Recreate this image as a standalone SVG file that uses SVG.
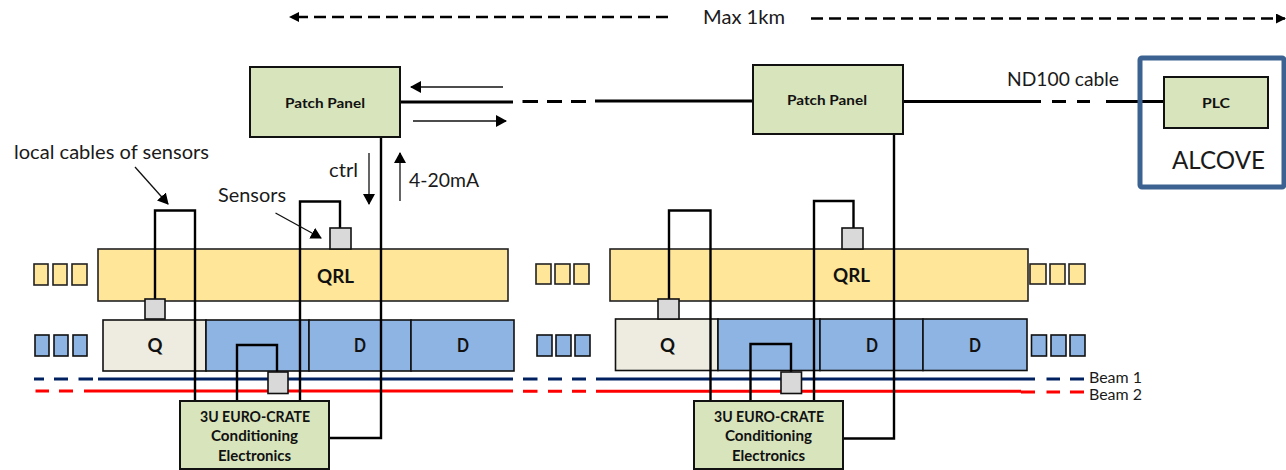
<svg xmlns="http://www.w3.org/2000/svg" width="1286" height="470" viewBox="0 0 1286 470">
<style>
text{font-family:Lato,"Liberation Sans",sans-serif;fill:#1a1a1a;text-anchor:middle;dominant-baseline:central}
.b{font-weight:700;fill:#111}
.pp{fill:#d8e4bc;stroke:#111;stroke-width:2}
.ql{fill:#ffe699;stroke:#222;stroke-width:1.6}
.bl{fill:#8eb4e3;stroke:#111;stroke-width:1.6}
.q{fill:#eeece1;stroke:#111;stroke-width:1.6}
.s{fill:#d9d9d9;stroke:#111;stroke-width:1.6}
.w{fill:none;stroke:#000;stroke-width:2.4}
.c{fill:none;stroke:#000;stroke-width:3}
.a{fill:none;stroke:#111;stroke-width:1.3;marker-end:url(#ah)}
.d{fill:none;stroke:#000;stroke-width:2.4;stroke-dasharray:12 6;marker-end:url(#ah2)}
.b1{fill:none;stroke:#002060;stroke-width:3}
.b2{fill:none;stroke:#f00;stroke-width:3}
</style>
<defs>
<marker id="ah" markerWidth="11" markerHeight="12" refX="10" refY="6" orient="auto" markerUnits="userSpaceOnUse"><path d="M0 0L11 6L0 12Z" fill="#000"/></marker>
<marker id="ah2" markerWidth="10" markerHeight="10" refX="9" refY="5" orient="auto" markerUnits="userSpaceOnUse"><path d="M0 0L10 5L0 10Z" fill="#000"/></marker>
</defs>

<g id="left-section">
<rect class="ql" x="98" y="249" width="410" height="52"/>
<rect class="ql" x="34" y="264" width="14" height="21"/><rect class="ql" x="53" y="264" width="14" height="21"/><rect class="ql" x="72" y="264" width="15" height="21"/>
<rect class="ql" x="536" y="264" width="15" height="20"/><rect class="ql" x="555" y="264" width="15" height="20"/><rect class="ql" x="574" y="264" width="15" height="20"/>
<rect class="q" x="103" y="320" width="103" height="51"/>
<rect class="bl" x="206" y="320" width="103" height="51"/><rect class="bl" x="309" y="320" width="102" height="51"/><rect class="bl" x="411" y="320" width="103" height="51"/>
<rect class="bl" x="35" y="335" width="14" height="21"/><rect class="bl" x="54" y="335" width="14" height="21"/><rect class="bl" x="73" y="335" width="14" height="21"/>
<rect class="bl" x="537" y="335" width="15" height="21"/><rect class="bl" x="556" y="335" width="15" height="21"/><rect class="bl" x="575" y="335" width="15" height="21"/>
</g>
<g id="right-section">
<rect class="ql" x="610" y="249" width="418" height="52"/>
<rect class="ql" x="1030" y="264" width="16" height="20"/><rect class="ql" x="1050" y="264" width="15" height="20"/><rect class="ql" x="1069" y="264" width="16" height="20"/>
<rect class="q" x="615.500" y="319" width="102.500" height="51.500"/>
<rect class="bl" x="718" y="319" width="102" height="51.500"/><rect class="bl" x="820" y="319" width="103" height="51.500"/><rect class="bl" x="923" y="319" width="104" height="51.500"/>
<rect class="bl" x="1031.500" y="335" width="15" height="21"/><rect class="bl" x="1051" y="335" width="15" height="21"/><rect class="bl" x="1070" y="335" width="15" height="21"/>
</g>

<g id="connectors">
<path class="b1" d="M34 379H44M54 379H68M78.500 379H93M98 379H513M523 379H537.500M548 379H562M572 379H586M596 379H1035M1046.500 379H1060M1070 379H1084"/>
<path class="b2" d="M35.500 391H49M59 391H73M84 391H513M523 391.300H537.500M548 391.300H562M572 391.300H586M596 391.300H1021M1021 392H1035M1046.500 392H1060M1070 392H1084"/>
<path class="w" d="M155 300V210.500H195V401"/>
<path class="w" d="M300 401V201.500H340V229"/>
<path class="w" d="M237 401V345H277V373"/>
<path class="w" d="M381 137V438H329"/>
<path class="w" d="M669 300V210.500H710.500V401"/>
<path class="w" d="M814 401V201H853.500V229"/>
<path class="w" d="M750.500 401V344H791V373"/>
<path class="w" d="M894 134V438.500H843"/>
<path class="c" d="M400 102H513M522.500 101.500H538M547 101.500H562M571 101.500H586M595 101H753"/>
<path class="c" d="M903 101.500H1041M1052 101.500H1066M1077 101.500H1090M1106 101.500H1164"/>
<path class="d" d="M668 17H290"/>
<path class="d" d="M811 18.500H1285"/>
<path class="a" d="M503 87H411"/>
<path class="a" d="M413 121H506"/>
<path class="a" d="M369 153V204"/>
<path class="a" d="M400 201V153"/>
<path class="a" d="M135 167L168 204"/>
<path class="a" d="M275.500 213L321 238"/>
</g>

<g id="sensor-1"><rect class="s" x="145" y="299" width="20" height="20"/></g>
<g id="sensor-2"><rect class="s" x="330" y="228" width="21" height="21"/></g>
<g id="sensor-3"><rect class="s" x="268" y="372" width="20" height="21.500"/></g>
<g id="sensor-4"><rect class="s" x="658" y="299" width="21" height="20"/></g>
<g id="sensor-5"><rect class="s" x="842" y="228" width="21" height="21"/></g>
<g id="sensor-6"><rect class="s" x="781" y="372" width="20.500" height="21.500"/></g>

<g id="patch-panel-1"><rect class="pp" x="250" y="67" width="150" height="70"/><text class="b" x="325" y="103" font-size="13.500" textLength="80" lengthAdjust="spacingAndGlyphs">Patch Panel</text></g>
<g id="patch-panel-2"><rect class="pp" x="753" y="65" width="150" height="69"/><text class="b" x="827" y="100" font-size="13.500" textLength="80" lengthAdjust="spacingAndGlyphs">Patch Panel</text></g>
<g id="alcove"><rect x="1140" y="58" width="144" height="129" rx="2" fill="none" stroke="#3b6291" stroke-width="5"/><text x="1218.500" y="159" font-size="25" textLength="93" lengthAdjust="spacingAndGlyphs">ALCOVE</text></g>
<g id="plc"><rect class="pp" x="1164" y="77" width="104" height="51"/><text class="b" x="1216" y="102" font-size="14" textLength="28" lengthAdjust="spacingAndGlyphs">PLC</text></g>
<g id="crate-1"><rect class="pp" x="180" y="401" width="149" height="68"/>
<text class="b" x="255" y="416" font-size="14.500" textLength="110" lengthAdjust="spacingAndGlyphs">3U EURO-CRATE</text>
<text class="b" x="254.500" y="435" font-size="14.500" textLength="87" lengthAdjust="spacingAndGlyphs">Conditioning</text>
<text class="b" x="254.500" y="455" font-size="14.500" textLength="73" lengthAdjust="spacingAndGlyphs">Electronics</text></g>
<g id="crate-2"><rect class="pp" x="694" y="401" width="149" height="68"/>
<text class="b" x="769" y="416" font-size="14.500" textLength="110" lengthAdjust="spacingAndGlyphs">3U EURO-CRATE</text>
<text class="b" x="768.500" y="435" font-size="14.500" textLength="87" lengthAdjust="spacingAndGlyphs">Conditioning</text>
<text class="b" x="768.500" y="455" font-size="14.500" textLength="73" lengthAdjust="spacingAndGlyphs">Electronics</text></g>

<g id="labels">
<text x="744" y="16" font-size="19" textLength="82" lengthAdjust="spacingAndGlyphs">Max 1km</text>
<text x="1063" y="78" font-size="19" textLength="112" lengthAdjust="spacingAndGlyphs">ND100 cable</text>
<text x="111.500" y="152" font-size="18.500" textLength="195" lengthAdjust="spacingAndGlyphs">local cables of sensors</text>
<text x="252" y="195" font-size="18.500" textLength="68" lengthAdjust="spacingAndGlyphs">Sensors</text>
<text x="343.500" y="170" font-size="18.500" textLength="29" lengthAdjust="spacingAndGlyphs">ctrl</text>
<text x="444" y="179" font-size="19" textLength="70" lengthAdjust="spacingAndGlyphs">4-20mA</text>
<text class="b" x="335.500" y="276" font-size="18" textLength="37" lengthAdjust="spacingAndGlyphs">QRL</text>
<text class="b" x="851.500" y="275" font-size="18" textLength="37" lengthAdjust="spacingAndGlyphs">QRL</text>
<text class="b" x="155" y="345" font-size="18" textLength="15" lengthAdjust="spacingAndGlyphs">Q</text>
<text class="b" x="667.500" y="345" font-size="18" textLength="15" lengthAdjust="spacingAndGlyphs">Q</text>
<text class="b" x="360" y="345" font-size="18" textLength="12" lengthAdjust="spacingAndGlyphs">D</text>
<text class="b" x="463" y="345" font-size="18" textLength="12" lengthAdjust="spacingAndGlyphs">D</text>
<text class="b" x="872" y="345" font-size="18" textLength="12" lengthAdjust="spacingAndGlyphs">D</text>
<text class="b" x="975" y="345" font-size="18" textLength="12" lengthAdjust="spacingAndGlyphs">D</text>
<text x="1115.500" y="377" font-size="15.500" textLength="53" lengthAdjust="spacingAndGlyphs">Beam 1</text>
<text x="1115.500" y="393.500" font-size="15.500" textLength="53" lengthAdjust="spacingAndGlyphs">Beam 2</text>
</g>
</svg>
